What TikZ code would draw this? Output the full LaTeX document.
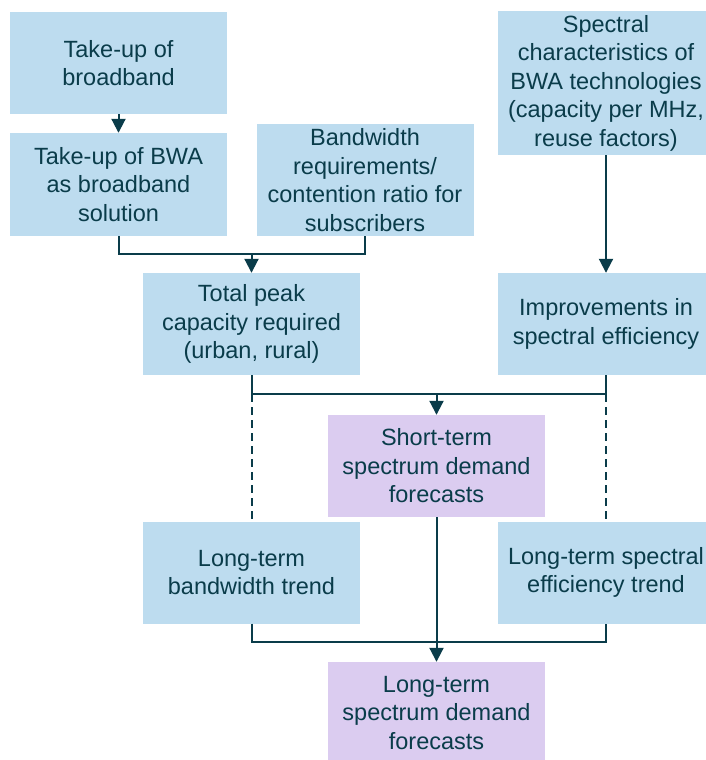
\documentclass[tikz,border=0pt]{standalone}
\usepackage{fontspec}
\setmainfont{Liberation Sans}
\usetikzlibrary{arrows.meta}
\definecolor{boxblue}{RGB}{189,220,239}
\definecolor{boxlilac}{RGB}{219,204,240}
\definecolor{ink}{RGB}{10,60,74}

\begin{document}
\begin{tikzpicture}[x=1pt,y=-1pt,>={Triangle[width=14pt,length=14pt]},
  link/.style={ink,line width=2pt},
  box/.style={fill=boxblue,text=ink,align=center,inner sep=0pt,
    minimum width=217pt,minimum height=102pt,
    font=\fontsize{23.5}{28.5}\selectfont},
  fcast/.style={box,fill=boxlilac}]
\useasboundingbox (0,0) rectangle (705,760);
\node[box] (bb) at (118.5,63) {Take-up of\\broadband};
\node[box,minimum height=103pt] (bwa) at (118.5,184.5) {Take-up of BWA\\as broadband\\solution};
\node[box,minimum height=112pt] (req) at (365,180) {Bandwidth\\requirements/\\contention ratio for\\subscribers};
\node[box,minimum height=144pt] (spec) at (606,83) {Spectral\\characteristics of\\BWA technologies\\(capacity per MHz,\\reuse factors)};
%
\node[box] (peak) at (251.5,324) {Total peak\\capacity required\\(urban, rural)};
\node[box] (impr) at (606,324) {Improvements in\\spectral efficiency};
\node[fcast] (short) at (436.5,466) {Short-term\\spectrum demand\\forecasts};
%
\node[box] (ltbw) at (251.5,572.5) {Long-term\\bandwidth trend};
\node[box] (ltse) at (606,572.5) {Long-term spectral\\efficiency trend};
\node[fcast] (long) at (436.5,713) {Long-term\\spectrum demand\\forecasts};
%%
\coordinate (j1) at (251.5,254);
\coordinate (j2) at (436.5,394);
\coordinate (j3) at (436.5,642);
%%
\draw[->,link] (bb) -- (bwa);
\draw[link] (bwa.south) |- (j1) -| (req.south);
\draw[->,link] (j1) -- (peak);
\draw[->,link] (spec) -- (impr);
\draw[link] (peak.south) |- (j2) -| (impr.south);
\draw[->,link] (j2) -- (short);
\draw[link,dash pattern=on 8pt off 5pt] (peak.south |- j2) -- (ltbw.north)
  (impr.south |- j2) -- (ltse.north);
\draw[link] (ltbw.south) |- (j3) -| (ltse.south);
\draw[->,link] (short) -- (long);
\end{tikzpicture}
\end{document}
